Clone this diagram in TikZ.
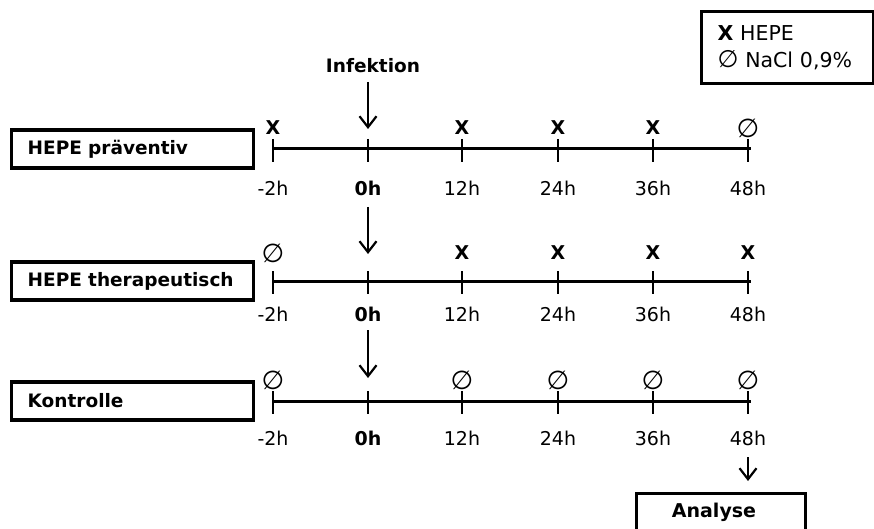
\documentclass[tikz,border=0pt]{standalone}
\usepackage{fontspec}
\setmainfont{DejaVu Sans}
\usetikzlibrary{arrows.meta}
\begin{document}
\begin{tikzpicture}[x=1pt,y=-1pt,
  tline/.style={line width=3pt},
  tick/.style={line width=2.6pt},
  lbl/.style={font=\fontsize{19}{22}\selectfont, inner sep=0pt},
  mk/.style={font=\fontsize{19}{22}\selectfont, inner sep=0pt},
  grp/.style={draw, line width=3.4pt, font=\fontsize{18.5}{22}\selectfont\bfseries,
    text width=210pt, inner xsep=16pt, minimum height=38pt, align=left, anchor=west},
  arr/.style={line width=2.2pt, -{Straight Barb[length=11pt,width=17pt,line width=2.2pt]}}
]
\useasboundingbox (0,0) rectangle (874,529);

% legend
\node[draw, line width=3pt, anchor=north west, minimum width=172pt, minimum height=72pt,
  text width=140pt, inner xsep=16pt, align=left,
  font=\fontsize{20.5}{27}\selectfont] (legend) at (700,10)
  {\textbf{X} HEPE\\{\fontsize{24}{27}\selectfont ∅} NaCl 0,9\%};

% infection label
\node[font=\fontsize{18.5}{22}\selectfont\bfseries, inner sep=0pt] (inf) at (373,66) {Infektion};

% rows
\def\xs{273,368,462,558,653,748}
\foreach \r/\ly/\my/\by/\name/\marks in {
  1/149/128/188/{HEPE präventiv}/{X,,X,X,X,∅},
  2/281/253/314/{HEPE therapeutisch}/{∅,,X,X,X,X},
  3/401/380/438/{Kontrolle}/{∅,,∅,∅,∅,∅}}{
  \node[grp] (box\r) at (10,\ly) {\name};
  \coordinate (s\r) at (273,\ly);
  \coordinate (e\r) at (751,\ly);
  \draw[tline] (s\r) -- (e\r);
  \foreach \x [count=\i] in \xs {
    \coordinate (t\r-\i a) at (\x,\ly-10);
    \coordinate (t\r-\i b) at (\x,\ly+13);
    \draw[tick] (t\r-\i a) -- (t\r-\i b);
  }
  \foreach \m [count=\i] in \marks {
    \pgfmathsetmacro{\xx}{{273,368,462,558,653,748}[\i-1]}
    \node[mk] (m\r-\i) at (\xx,\my) {\if X\m\bfseries X\else{\fontsize{26}{28}\selectfont\m}\fi};
  }
  \node[lbl] (l\r-1) at (273,\by) {-2h};
  \node[lbl, font=\fontsize{19}{22}\selectfont\bfseries] (l\r-2) at (368,\by) {0h};
  \node[lbl] (l\r-3) at (462,\by) {12h};
  \node[lbl] (l\r-4) at (558,\by) {24h};
  \node[lbl] (l\r-5) at (653,\by) {36h};
  \node[lbl] (l\r-6) at (748,\by) {48h};
}

\node[draw, line width=3.4pt, anchor=north west, minimum width=169pt, minimum height=44pt] (ana) at (635,492) {};
\node[font=\fontsize{19}{22}\selectfont\bfseries, inner sep=0pt] (anat) at (714,512) {Analyse};

% arrows
\coordinate (a1s) at (368,82);  \coordinate (a1e) at (368,129);
\coordinate (a2s) at (368,207); \coordinate (a2e) at (368,254);
\coordinate (a3s) at (368,330); \coordinate (a3e) at (368,378);
\coordinate (a4s) at (748,457); \coordinate (a4e) at (748,481);
\draw[arr] (a1s) -- (a1e);
\draw[arr] (a2s) -- (a2e);
\draw[arr] (a3s) -- (a3e);
\draw[arr] (a4s) -- (a4e);
\end{tikzpicture}
\end{document}
